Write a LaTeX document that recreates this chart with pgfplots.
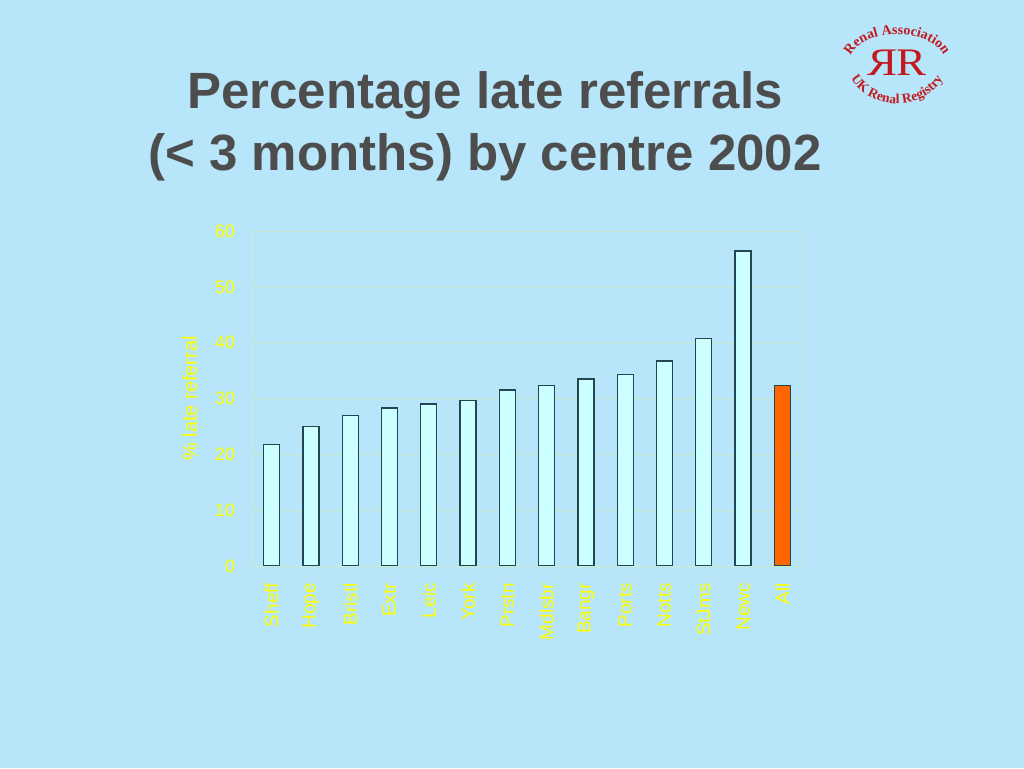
\documentclass[border=0pt]{standalone}
\usepackage{pgfplots}
\pgfplotsset{compat=1.18}
\usepackage{fontspec}
\setmainfont{Liberation Sans}
\newfontfamily\serifont{Liberation Serif}
\usepackage{graphicx}
\usetikzlibrary{decorations.text}
\definecolor{bg}{RGB}{183,229,250}
\definecolor{titlegray}{RGB}{77,77,77}
\definecolor{gridc}{RGB}{200,236,205}
\definecolor{barc}{RGB}{204,255,255}
\definecolor{edgec}{RGB}{35,70,80}
\definecolor{allc}{RGB}{255,102,0}
\definecolor{ticky}{RGB}{255,255,0}
\definecolor{logored}{RGB}{195,25,30}
\begin{document}
\begin{tikzpicture}
\fill[bg] (0,0) rectangle (1024pt,768pt);
\node[anchor=base, text=titlegray, font=\fontsize{51}{60}\selectfont\bfseries] at (485pt,659pt) {Percentage late referrals};
\node[anchor=base, text=titlegray, font=\fontsize{51}{60}\selectfont\bfseries] at (485pt,597pt) {(< 3 months) by centre 2002};
% logo
\node[text=logored, font=\serifont\fontsize{39}{39}\selectfont, inner sep=0pt, xscale=1.15] at (897pt,705pt) {\reflectbox{R}\kern-1pt R};
\path[decorate, decoration={text along path, text align=center, text={|\serifont\bfseries\fontsize{14}{14}\selectfont\color{logored}|Renal Association}}] (849.5pt,709.4pt) arc[start angle=172, end angle=8, x radius=48pt, y radius=28pt];
\path[decorate, decoration={text along path, text align=center, text={|\serifont\bfseries\fontsize{13.5}{13.5}\selectfont\color{logored}|UK Renal Registry}}] (849.4pt,692.8pt) arc[start angle=198, end angle=342, x radius=50pt, y radius=41pt];
\begin{axis}[
  at={(252pt,202pt)}, anchor=south west,
  width=550pt, height=335pt, scale only axis,
  xmin=-0.5, xmax=13.5, ymin=0, ymax=60,
  ytick={0,10,...,60},
  xtick={0,...,13},
  xticklabels={Sheff,Hope,Bristl,Extr,Leic,York,Prstn,Mdlsbr,Bangr,Ports,Notts,StJms,Newc,All},
  major tick length=0pt,
  ymajorgrids,
  grid style={gridc, line width=0.8pt},
  axis line style={gridc, line width=0.8pt},
  /pgf/number format/assume math mode=true,
  ticklabel style={text=ticky, font=\fontsize{18}{18}\selectfont},
  yticklabel style={inner sep=0pt},
  yticklabel shift=17pt,
  xticklabel style={rotate=90, anchor=east, inner sep=0pt, font=\fontsize{19}{19}\selectfont},
  xticklabel shift=17pt,
  ylabel={\% late referral},
  every axis y label/.style={at={(axis description cs:-0.113,0.5)}, rotate=90, anchor=center, text=ticky, font=\fontsize{20}{20}\selectfont},
]
\addplot[ybar, bar width=16pt, bar shift=0pt, fill=barc, draw=edgec, line width=1.3pt]
  coordinates {(0,21.8) (1,25.0) (2,26.9) (3,28.3) (4,29.0) (5,29.7) (6,31.5) (7,32.3) (8,33.5) (9,34.3) (10,36.7) (11,40.7) (12,56.4)};
\addplot[ybar, bar width=16pt, bar shift=0pt, fill=allc, draw=edgec, line width=1.3pt]
  coordinates {(13,32.3)};
\end{axis}
\pgfresetboundingbox
\useasboundingbox (0,0) rectangle (1024pt,768pt);
\end{tikzpicture}
\end{document}
